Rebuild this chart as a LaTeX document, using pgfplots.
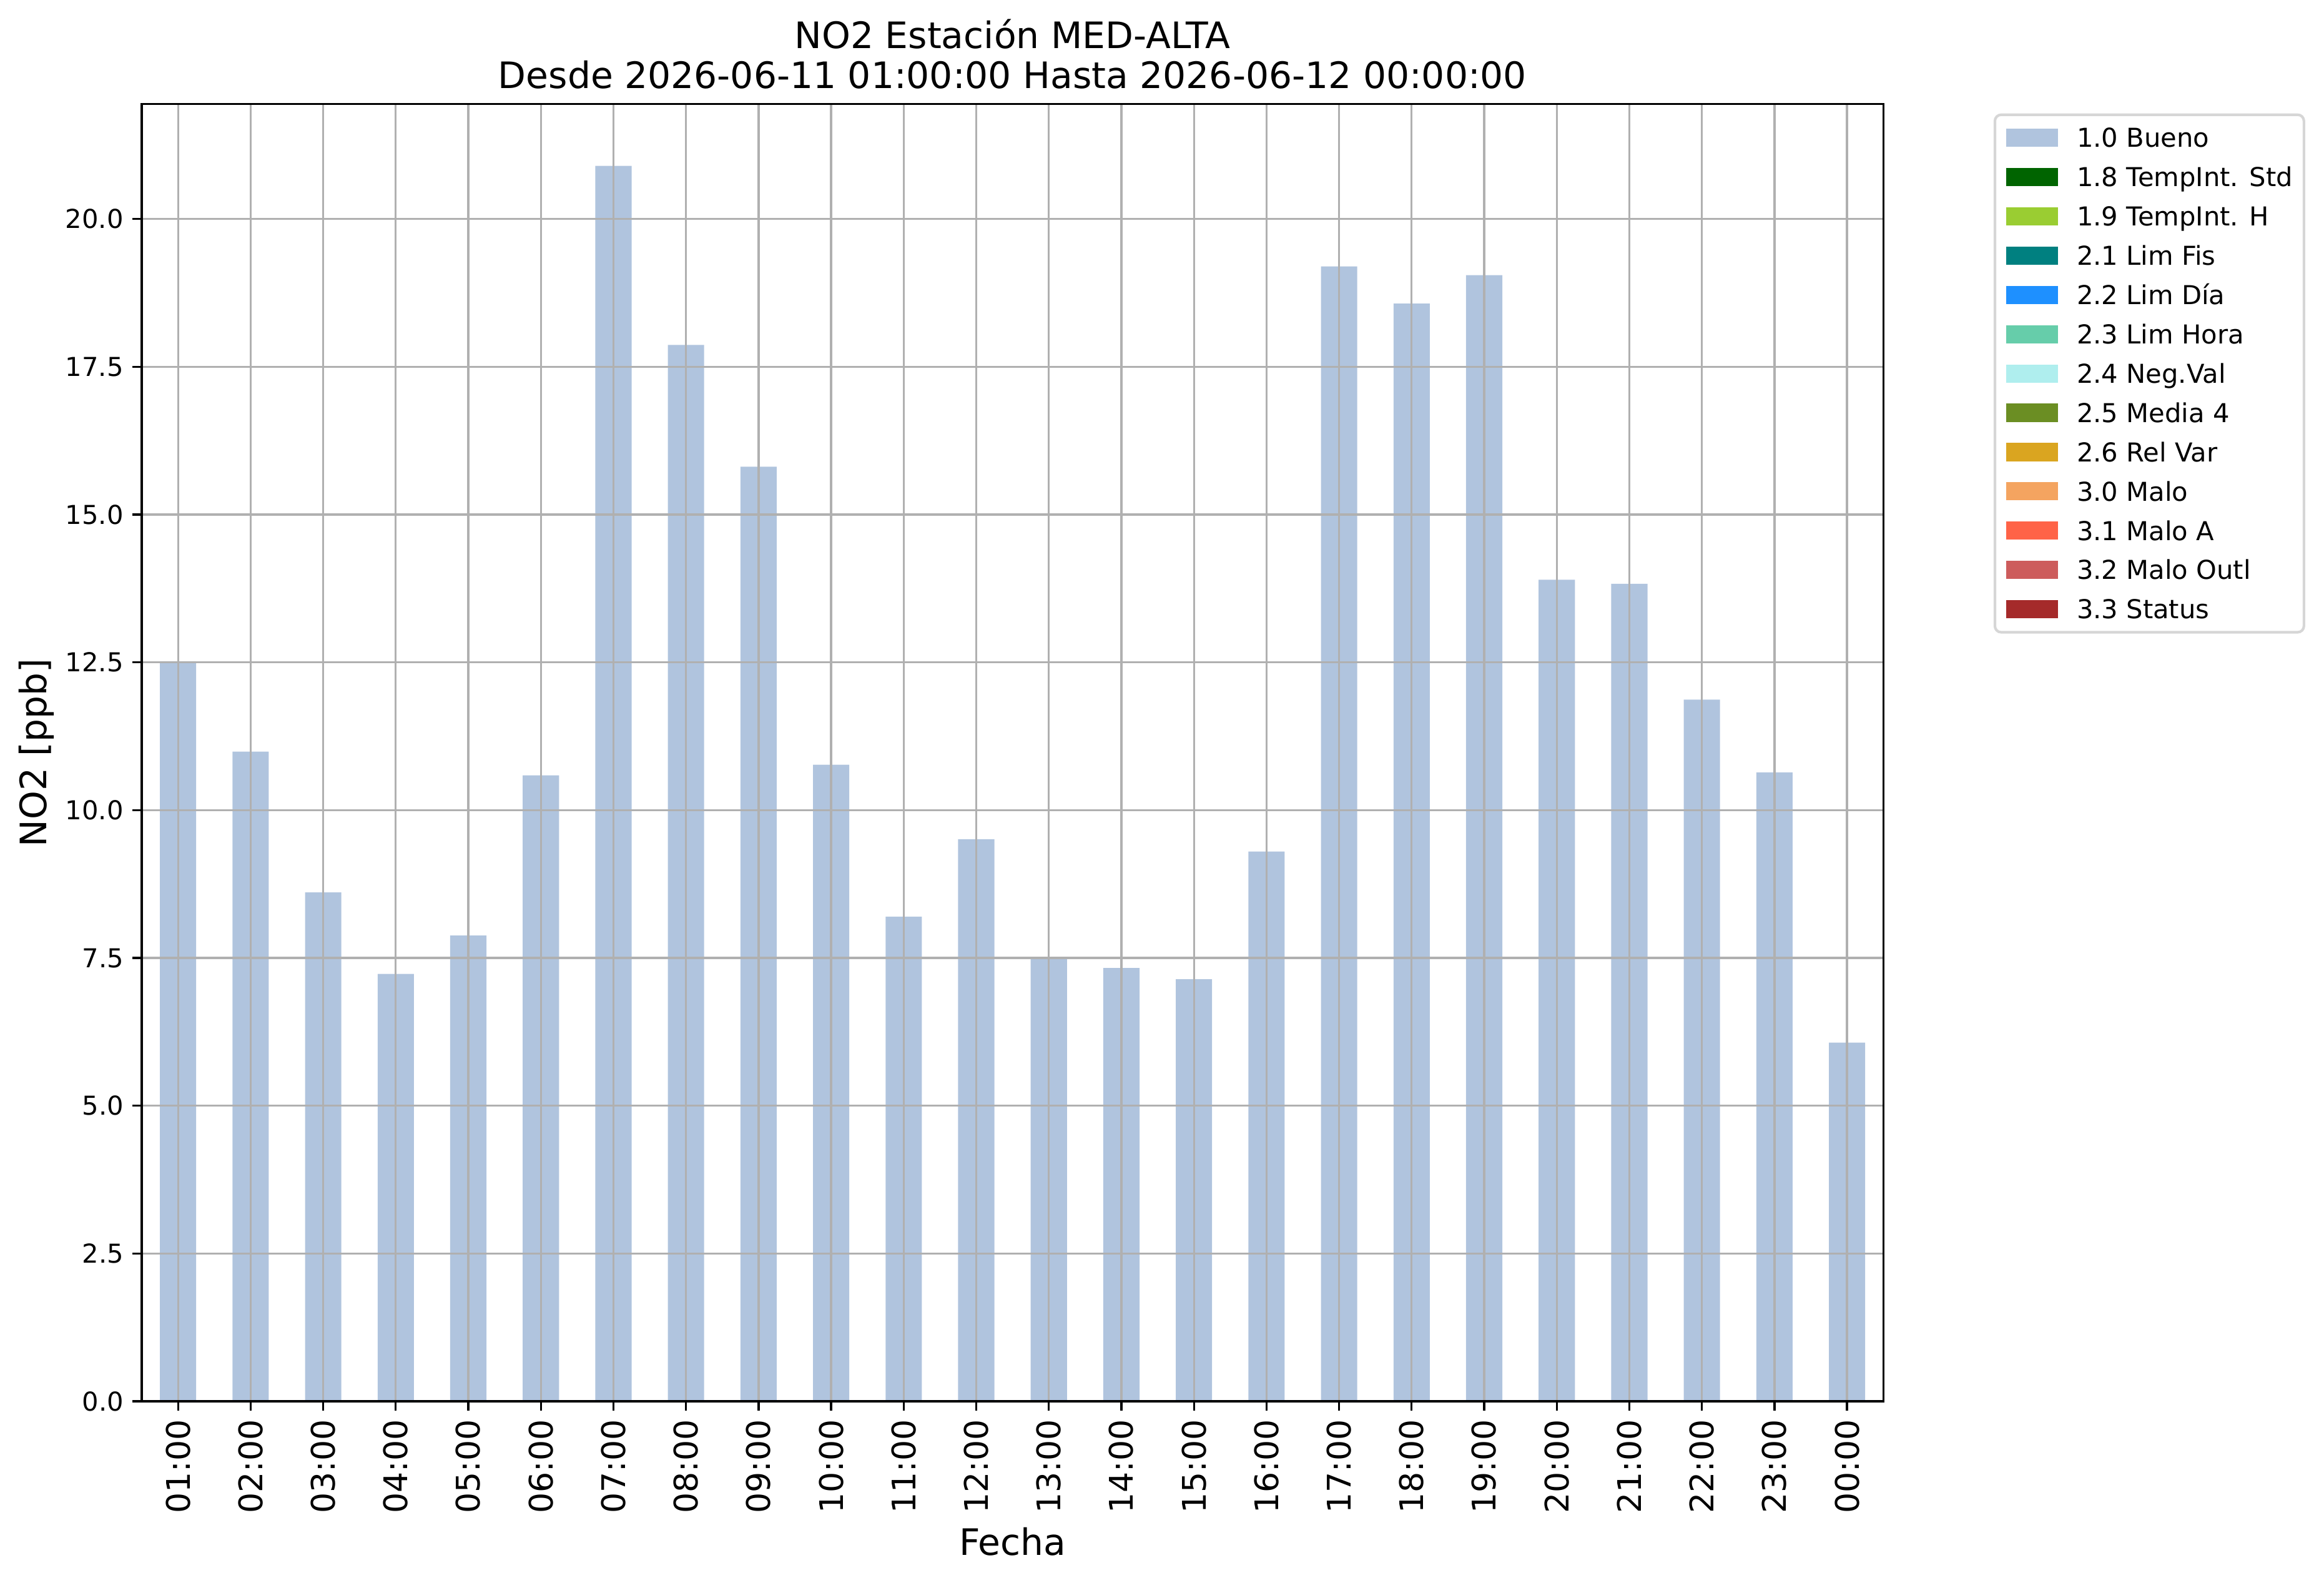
\documentclass[border=0pt]{standalone}
\usepackage{fontspec}
\setmainfont{DejaVu Sans}
\usepackage{pgfplots}
\pgfplotsset{compat=1.18}
\definecolor{cA}{HTML}{B0C4DE}
\definecolor{cB}{HTML}{006400}
\definecolor{cC}{HTML}{9ACD32}
\definecolor{cD}{HTML}{008080}
\definecolor{cE}{HTML}{1E90FF}
\definecolor{cF}{HTML}{66CDAA}
\definecolor{cG}{HTML}{AFEEEE}
\definecolor{cH}{HTML}{6B8E23}
\definecolor{cI}{HTML}{DAA520}
\definecolor{cJ}{HTML}{F4A460}
\definecolor{cK}{HTML}{FF6347}
\definecolor{cL}{HTML}{CD5C5C}
\definecolor{cM}{HTML}{A52A2A}
\definecolor{gridc}{HTML}{B0B0B0}
\definecolor{legc}{HTML}{D6D6D6}
\pgfplotsset{lp/.style={legend image code/.code={\fill[##1,draw=none,sharp corners] (0pt,-3.5pt) rectangle (20pt,3.5pt);}}}
\begin{document}
\begin{tikzpicture}
\path[use as bounding box] (-54.5pt,-69.6pt) rectangle (838.8pt,538.6pt);
\begin{axis}[
  at={(0pt,0pt)}, anchor=south west,
  scale only axis, width=669.4pt, height=498.6pt,
  clip=false,
  xmin=-0.5, xmax=23.5, ymin=0, ymax=21.945,
  xtick={0,...,23},
  xticklabels={01:00,02:00,03:00,04:00,05:00,06:00,07:00,08:00,09:00,10:00,11:00,12:00,13:00,14:00,15:00,16:00,17:00,18:00,19:00,20:00,21:00,22:00,23:00,00:00},
  ytick={0,2.5,5,7.5,10,12.5,15,17.5,20},
  yticklabel style={font=\fontsize{10}{12}\selectfont, /pgf/number format/fixed, /pgf/number format/fixed zerofill, /pgf/number format/precision=1, /pgf/number format/assume math mode=true},
  xticklabel style={rotate=90, anchor=east, font=\fontsize{12.5}{15}\selectfont},
  grid=major, major grid style={draw=gridc, line width=0.8pt},
  axis on top,
  axis line style={line width=0.8pt, black},
  tick style={black, line width=0.8pt},
  major tick length=3.5pt,
  tick align=outside,
  tick pos=left,
  xlabel={Fecha}, ylabel={NO2 [ppb]},
  label style={font=\fontsize{14}{17}\selectfont},
  xlabel style={at={(axis description cs:0.5,-0.11873)}, anchor=base},
  ylabel style={at={(axis description cs:-0.05483,0.5)}, anchor=base},
  legend cell align=left,
  legend style={at={(1.06334,0.99277)}, anchor=north west, draw=legc, line width=1pt,
    rounded corners=2.4pt, inner xsep=4.3pt, inner ysep=5.2pt, row sep=7.8pt,
    font=\fontsize{10}{12}\selectfont,
    nodes={inner sep=0pt, text height=7.3pt, text depth=0pt},
    /tikz/every odd column/.style={column sep=7.2pt}},
]
\addplot[ybar, bar width=0.5, bar shift=0pt, fill=cA, draw=none, lp] coordinates {
(0,12.52) (1,10.99) (2,8.61) (3,7.23) (4,7.88) (5,10.59) (6,20.90) (7,17.87)
(8,15.81) (9,10.77) (10,8.20) (11,9.51) (12,7.48) (13,7.33) (14,7.14) (15,9.30)
(16,19.20) (17,18.57) (18,19.05) (19,13.90) (20,13.83) (21,11.87) (22,10.64) (23,6.07)};
\addlegendentry{1.0 Bueno}
\addlegendimage{lp, fill=cB}\addlegendentry{1.8 TempInt. Std}
\addlegendimage{lp, fill=cC}\addlegendentry{1.9 TempInt. H}
\addlegendimage{lp, fill=cD}\addlegendentry{2.1 Lim Fis}
\addlegendimage{lp, fill=cE}\addlegendentry{2.2 Lim Día}
\addlegendimage{lp, fill=cF}\addlegendentry{2.3 Lim Hora}
\addlegendimage{lp, fill=cG}\addlegendentry{2.4 Neg.Val}
\addlegendimage{lp, fill=cH}\addlegendentry{2.5 Media 4}
\addlegendimage{lp, fill=cI}\addlegendentry{2.6 Rel Var}
\addlegendimage{lp, fill=cJ}\addlegendentry{3.0 Malo}
\addlegendimage{lp, fill=cK}\addlegendentry{3.1 Malo A}
\addlegendimage{lp, fill=cL}\addlegendentry{3.2 Malo Outl}
\addlegendimage{lp, fill=cM}\addlegendentry{3.3 Status}
\node[font=\fontsize{14}{17}\selectfont, anchor=base] at (axis description cs:0.5,1.04312) {NO2 Estación MED-ALTA};
\node[font=\fontsize{14}{17}\selectfont, anchor=base] at (axis description cs:0.5,1.01203) {Desde 2026-06-11 01:00:00 Hasta 2026-06-12 00:00:00};
\end{axis}
\end{tikzpicture}
\end{document}
